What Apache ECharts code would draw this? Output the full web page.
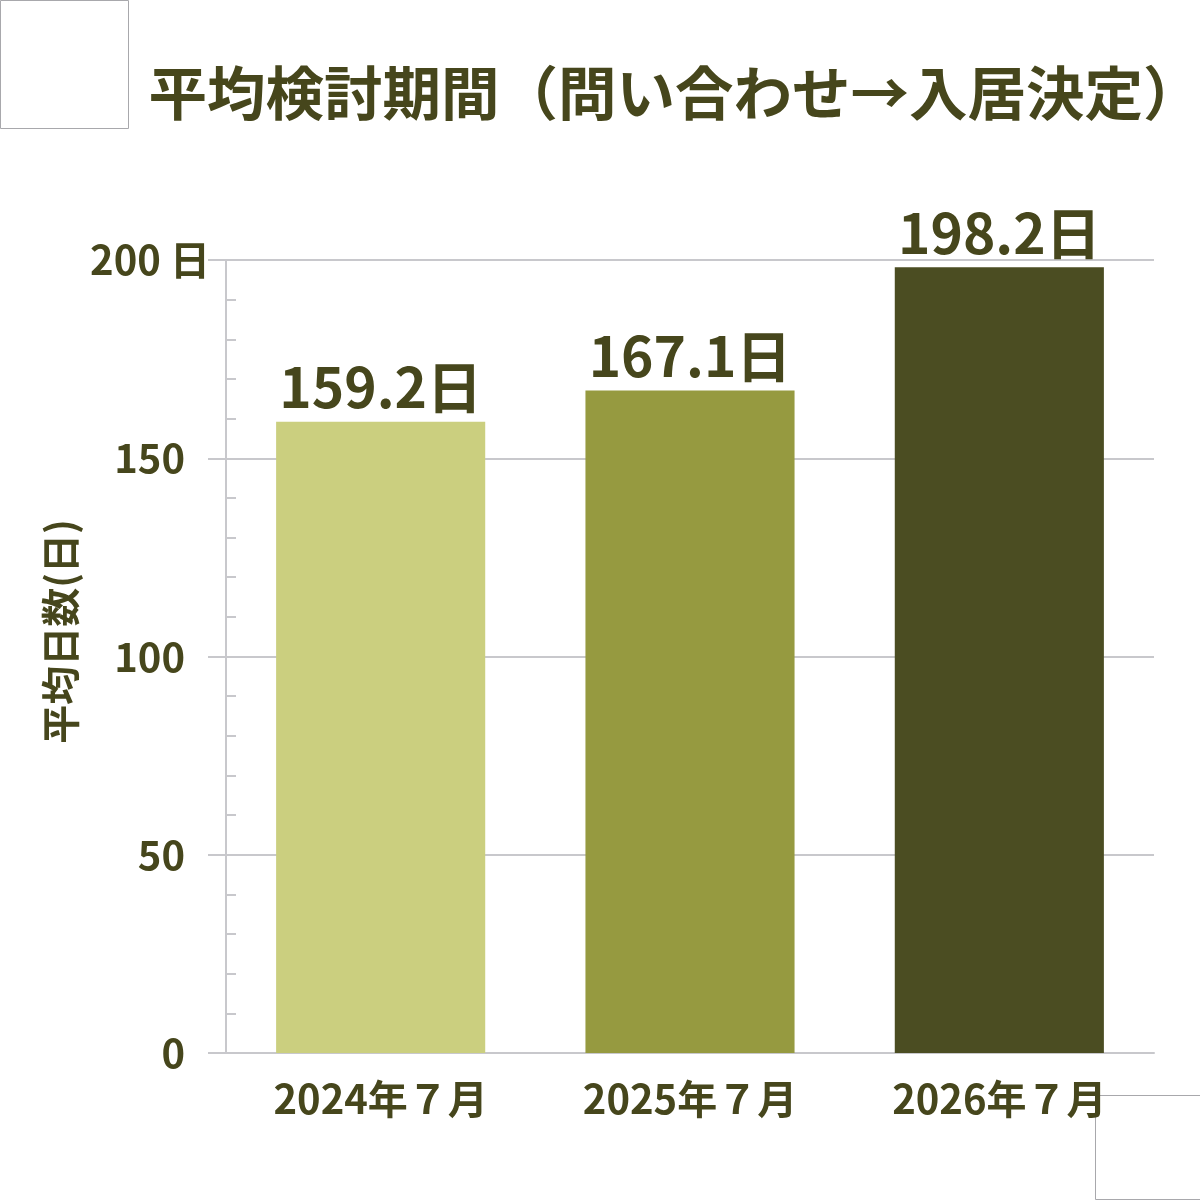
<!DOCTYPE html>
<html>
<head>
<meta charset="UTF-8">
<title>平均検討期間</title>
<script src="https://cdn.jsdelivr.net/npm/echarts@6/dist/echarts.min.js"></script>
<style>
  html, body { margin: 0; padding: 0; background: #fff; }
  #main { width: 1200px; height: 1200px; }
</style>
</head>
<body>
<div id="main"></div>
<script>
// データ
var categories = ['2024年７月', '2025年７月', '2026年７月'];
var values = [159.2, 167.1, 198.2];
var barColors = ['#cbcf7f', '#969a40', '#4b4d22'];
var yTicks = [0, 50, 100, 150, 200];

var textColor = '#46461c';
var font = 'Noto Sans CJK JP';
var weight = 'bold';

var chart = echarts.init(document.getElementById('main'));

var option = {
  backgroundColor: '#ffffff',
  textStyle: { fontFamily: font },
  title: {
    text: '平均検討期間（問い合わせ→入居決定）',
    left: 670,
    textAlign: 'center',
    top: 59,
    textStyle: { fontSize: 58.5, fontWeight: weight, color: textColor, fontFamily: font }
  },
  graphic: [
    { type: 'rect', left: 0, top: 0, shape: { width: 128, height: 128 },
      style: { fill: '#fff', stroke: '#a8a8ac', lineWidth: 1 } },
    { type: 'rect', left: 1095, top: 1095, shape: { width: 105, height: 104 },
      style: { fill: '#fff', stroke: '#a8a8ac', lineWidth: 1 } }
  ],
  grid: { left: 226, right: 46, top: 260, bottom: 147 },
  xAxis: {
    type: 'category',
    data: categories,
    axisLine: { lineStyle: { color: '#c8c8cc', width: 2 } },
    axisTick: { show: false },
    axisLabel: { margin: 26, fontSize: 40, fontWeight: weight, color: textColor, fontFamily: font }
  },
  yAxis: [{
    type: 'value',
    min: 0, max: 200, interval: 50,
    name: '平均日数(日)',
    nameLocation: 'middle',
    nameGap: 146,
    nameRotate: 90,
    nameTextStyle: { fontSize: 39, fontWeight: weight, color: textColor, fontFamily: font, padding: [0, 0, 0, 50] },
    axisLine: { show: true, lineStyle: { color: '#c8c8cc', width: 2 } },
    axisTick: { show: true, length: 18, lineStyle: { color: '#c8c8cc', width: 2 } },
    splitLine: { lineStyle: { color: '#c8c8cc', width: 2 } },
    axisLabel: {
      margin: 16,
      formatter: function (v) {
        return v === yTicks[yTicks.length - 1] ? '{t|' + v + ' 日}' : '{n|' + v + '}';
      },
      rich: {
        t: { fontSize: 40, fontWeight: weight, color: textColor, fontFamily: font },
        n: { fontSize: 40, fontWeight: weight, color: textColor, fontFamily: font, padding: [0, 25, 0, 0] }
      }
    }
  }, {
    // 内向きの補助目盛
    type: 'value',
    min: 0, max: 200, interval: 50,
    position: 'left',
    axisLine: { show: false },
    axisTick: { show: false, inside: true },
    minorTick: { show: true, splitNumber: 5, length: 10, lineStyle: { color: '#c8c8cc', width: 2 } },
    splitLine: { show: false },
    axisLabel: { show: false }
  }],
  series: [{
    type: 'bar',
    data: values.map(function (v, i) {
      return { value: v, itemStyle: { color: barColors[i] } };
    }),
    barWidth: '67.6%',
    label: {
      show: true,
      position: 'top',
      distance: 7,
      formatter: '{c}日',
      fontSize: 55,
      fontWeight: weight,
      color: textColor,
      fontFamily: font
    }
  }]
};

chart.setOption(option);
</script>
</body>
</html>
